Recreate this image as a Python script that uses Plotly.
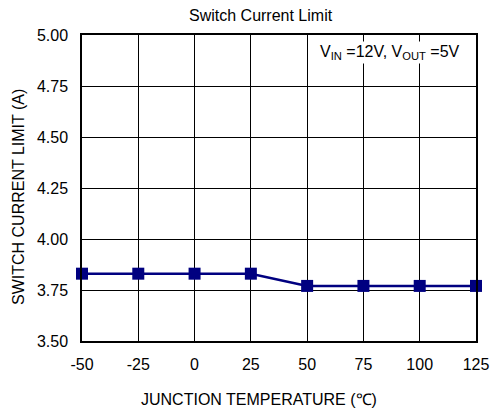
import plotly.graph_objects as go

temps = [-50, -25, 0, 25, 50, 75, 100, 125]
current = [3.83, 3.83, 3.83, 3.83, 3.77, 3.77, 3.77, 3.77]
yticks = [3.50, 3.75, 4.00, 4.25, 4.50, 4.75, 5.00]

FONT = "Liberation Sans, Arial, sans-serif"
L, R, T, B = 82, 14, 35, 73
W, H = 501, 414
pw = W - L - R

fig = go.Figure()
fig.add_trace(go.Scatter(
    x=temps, y=current, mode="lines+markers",
    line=dict(color="#000080", width=2.5),
    marker=dict(symbol="square", size=12, color="#000080"),
    showlegend=False, cliponaxis=False,
))

fig.update_layout(
    width=W, height=H,
    margin=dict(l=L, r=R, t=T, b=B),
    paper_bgcolor="white", plot_bgcolor="white",
    font=dict(family=FONT, color="black", size=16),
    xaxis=dict(range=[-50, 125], tickvals=temps, ticktext=[str(t) for t in temps],
               showgrid=True, gridcolor="black", gridwidth=1,
               showline=True, linecolor="black", linewidth=1.5, mirror=True,
               zeroline=False, ticks="", ticklabelstandoff=8,
               tickfont=dict(size=16)),
    yaxis=dict(range=[3.50, 5.00], tickvals=yticks, ticktext=[f"{v:.2f}" for v in yticks],
               showgrid=True, gridcolor="black", gridwidth=1,
               showline=True, linecolor="black", linewidth=1.5, mirror=True,
               zeroline=False, ticks="", ticklabelstandoff=9,
               tickfont=dict(size=16)),
    annotations=[
        dict(text="Switch Current Limit", xref="paper", yref="paper",
             x=(266 - L) / pw, y=1, yshift=20, showarrow=False,
             font=dict(size=16), xanchor="center", yanchor="middle"),
        dict(text="JUNCTION TEMPERATURE (℃)", xref="paper", yref="paper",
             x=(264 - L) / pw, y=0, yshift=-58, showarrow=False,
             font=dict(size=16), xanchor="center", yanchor="middle"),
        dict(text="SWITCH CURRENT LIMIT (A)", xref="paper", yref="paper",
             x=0, xshift=-64, y=0.5, yshift=-9, showarrow=False, textangle=-90,
             font=dict(size=16), xanchor="center", yanchor="middle"),
        dict(text="V<sub>IN</sub> =12V, V<sub>OUT</sub> =5V", xref="paper", yref="paper",
             x=1, xshift=-14, y=1, yshift=-17, showarrow=False,
             font=dict(size=16), xanchor="right", yanchor="middle",
             bgcolor="white", borderpad=1),
    ],
)

fig.write_html(
    "out.html",
    config={"displayModeBar": False},
    post_script="document.body.style.margin='0px';document.body.style.overflow='hidden';",
)
